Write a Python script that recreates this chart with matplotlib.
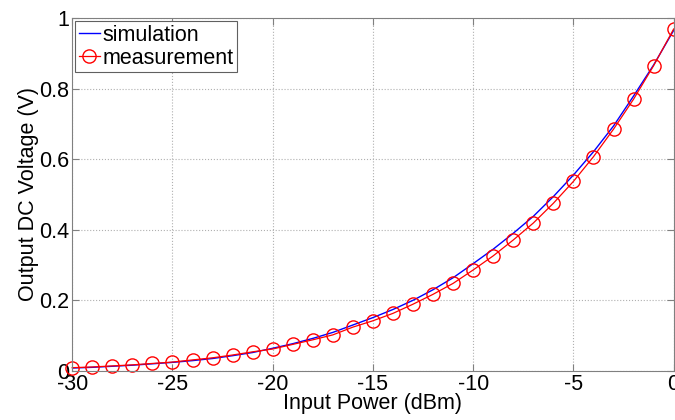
import matplotlib
matplotlib.use('Agg')
import matplotlib.pyplot as plt
import numpy as np

plt.rcParams['font.family'] = ['Liberation Sans', 'DejaVu Sans']
plt.rcParams['axes.unicode_minus'] = False

# input power (dBm)
p_in = list(range(-30, 1))

# simulated output DC voltage (V)
v_sim = [0.008, 0.010, 0.013, 0.016, 0.020, 0.024, 0.029, 0.035, 0.043, 0.052,
         0.064, 0.077, 0.092, 0.109, 0.130, 0.151, 0.174, 0.200, 0.230, 0.264,
         0.304, 0.345, 0.390, 0.438, 0.494, 0.555, 0.621, 0.694, 0.779, 0.867,
         0.965]

# measured output DC voltage (V)
v_meas = [0.009, 0.011, 0.014, 0.017, 0.021, 0.025, 0.031, 0.037, 0.045, 0.054,
          0.062, 0.075, 0.088, 0.102, 0.124, 0.142, 0.163, 0.189, 0.217, 0.248,
          0.286, 0.326, 0.371, 0.419, 0.475, 0.537, 0.607, 0.685, 0.770, 0.865,
          0.969]

fig = plt.figure(figsize=(6.75, 4.2), dpi=100)
ax = fig.add_axes([0.107, 0.117, 0.891, 0.84])

ax.plot(p_in, v_sim, color='#0000ff', lw=1.0, label='simulation')
ax.plot(p_in, v_meas, color='#ff0000', lw=0.9, marker='o', ms=9.5,
        mfc='none', mec='#ff0000', mew=1.0, label='measurement', clip_on=False)

ax.set_xlim(-30, 0)
ax.set_ylim(0, 1)
ax.set_xticks([-30, -25, -20, -15, -10, -5, 0])
ax.set_yticks([0, 0.2, 0.4, 0.6, 0.8, 1])
ax.set_yticklabels(['0', '0.2', '0.4', '0.6', '0.8', '1'])

ax.grid(True, color='#b0b0b0', linestyle=':', linewidth=0.8)
for s in ax.spines.values():
    s.set_color('#808080')
ax.tick_params(direction='in', top=True, right=True, length=5,
               color='#808080', labelsize=15.5, pad=2)

ax.set_xlabel('Input Power (dBm)', fontsize=15.5, labelpad=-1)
ax.set_ylabel('Output DC Voltage (V)', fontsize=15.5, labelpad=0)

leg = ax.legend(loc='upper left', fontsize=15.5, handlelength=1.0,
                handletextpad=0.1, borderpad=0.15, labelspacing=0.1,
                borderaxespad=0.15, fancybox=False, framealpha=1)
leg.get_frame().set_edgecolor('#606060')
leg.get_frame().set_linewidth(0.8)

fig.savefig('out.png', dpi=100)
